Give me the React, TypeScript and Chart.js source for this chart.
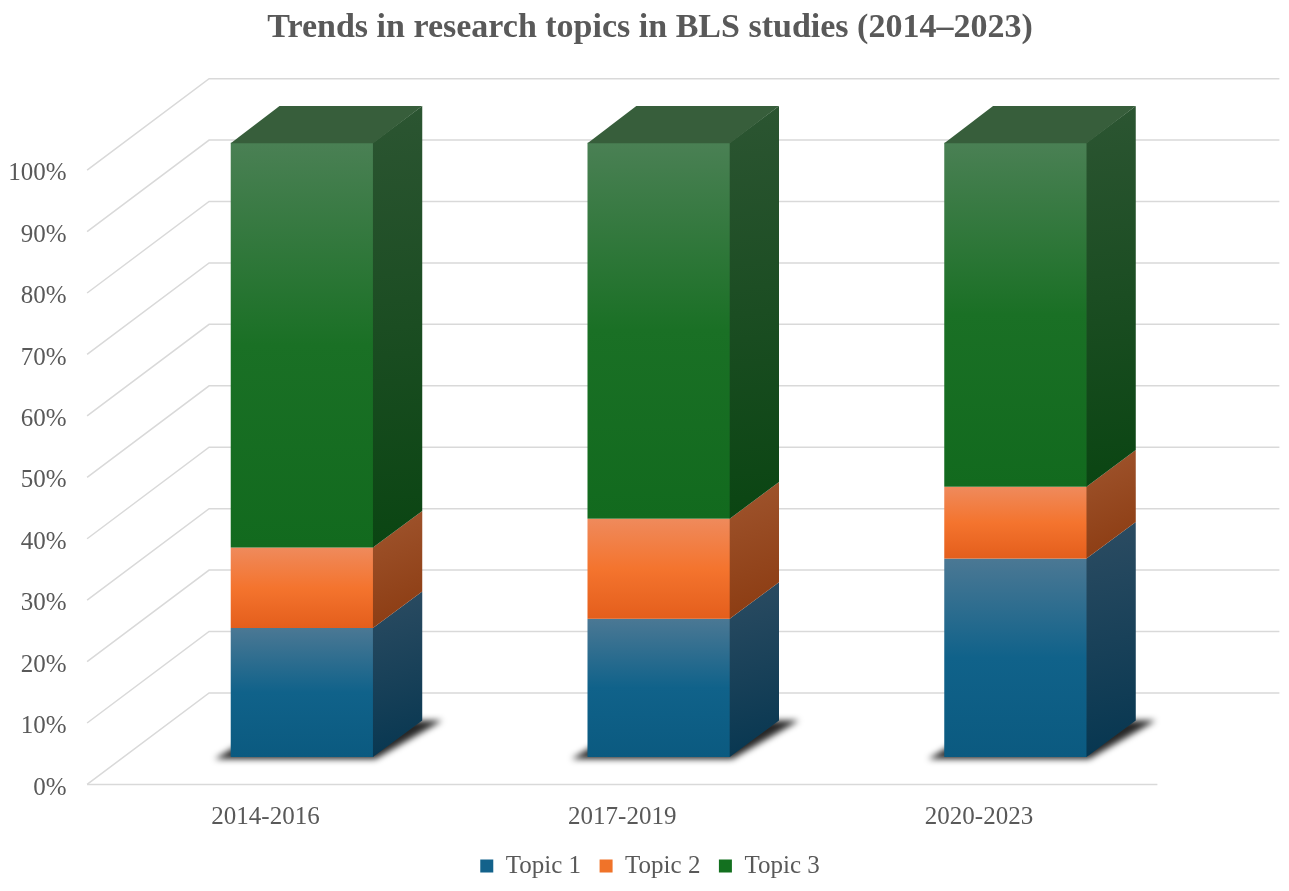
import { useEffect, useRef } from 'react';
import { Chart, registerables } from 'chart.js';

Chart.register(...registerables);

const categories = ['2014-2016', '2017-2019', '2020-2023'];
const seriesNames = ['Topic 1', 'Topic 2', 'Topic 3'];
const topic1 = [21.0, 22.5, 32.3];
const topic2 = [13.1, 16.3, 11.7];
const topic3 = [65.9, 61.2, 56.0];
const yMax = 100;
const yStep = 10;

// 3D box: offset from the front plane to the back wall, and where the bars sit in it
const DEPTH_X = 122;
const DEPTH_Y = -91.5;
const BAR_FRONT = 0.3;
const BAR_DEPTH = 0.4;

const GRID = '#d9d9d9';
const TEXT = '#595959';
const FONT = '"Liberation Serif", "Times New Roman", serif';

const faces = [
  { legend: '#13628b', front: ['#4b7894', '#10628a', '#0b5a80'], side: ['#2c4c62', '#063650'], top: '#2a4e66' },
  { legend: '#f07329', front: ['#ef8a5c', '#f4742e', '#e45e1c'], side: ['#a0552e', '#8a3a10'], top: '#b8602e' },
  { legend: '#13701f', front: ['#4a8054', '#1a7025', '#126a1e'], side: ['#2c5532', '#0a4512'], top: '#375e3b' },
];

const box3d = {
  id: 'box3d',
  beforeDatasetsDraw(chart: any) {
    const { ctx, chartArea, scales } = chart;
    const y = scales.y;
    const fx = -DEPTH_X * BAR_FRONT;
    const fy = -DEPTH_Y * BAR_FRONT;
    const bx = DEPTH_X * (1 - BAR_FRONT);
    const by = DEPTH_Y * (1 - BAR_FRONT);

    ctx.save();
    ctx.strokeStyle = GRID;
    ctx.lineWidth = 1.5;
    y.ticks.forEach((t: any) => {
      const py = y.getPixelForValue(t.value);
      ctx.beginPath();
      ctx.moveTo(chartArea.left + fx, py + fy);
      ctx.lineTo(chartArea.left + bx, py + by);
      ctx.lineTo(chartArea.right + bx, py + by);
      ctx.stroke();
    });
    const p0 = y.getPixelForValue(0);
    ctx.beginPath();
    ctx.moveTo(chartArea.left + fx, p0 + fy);
    ctx.lineTo(chartArea.right + fx, p0 + fy);
    ctx.stroke();

    // shadow under each bar
    const bdx = DEPTH_X * BAR_DEPTH;
    const bdy = DEPTH_Y * BAR_DEPTH;
    const meta = chart.getDatasetMeta(0);
    ctx.filter = 'blur(3px)';
    ctx.fillStyle = 'rgba(0,0,0,0.85)';
    meta.data.forEach((el: any) => {
      const { x, width } = el.getProps(['x', 'width'], true);
      const xl = x - width / 2;
      const xr = x + width / 2;
      ctx.beginPath();
      ctx.moveTo(xl - 16, p0 + 2);
      ctx.lineTo(xr + 2, p0 + 2);
      ctx.lineTo(xr + bdx + 20, p0 + bdy);
      ctx.lineTo(xl + bdx, p0 + bdy);
      ctx.closePath();
      ctx.fill();
    });
    ctx.restore();
  },
  beforeDatasetDraw() {
    return false;
  },
  afterDatasetsDraw(chart: any) {
    const { ctx } = chart;
    const bdx = DEPTH_X * BAR_DEPTH;
    const bdy = DEPTH_Y * BAR_DEPTH;
    const last = chart.data.datasets.length - 1;
    ctx.save();
    chart.data.datasets.forEach((_ds: any, di: number) => {
      const meta = chart.getDatasetMeta(di);
      const f = faces[di];
      meta.data.forEach((el: any) => {
        const { x, y: top, base, width } = el.getProps(['x', 'y', 'base', 'width'], true);
        const xl = x - width / 2;
        const xr = x + width / 2;

        const gf = ctx.createLinearGradient(0, top, 0, base);
        gf.addColorStop(0, f.front[0]);
        gf.addColorStop(0.5, f.front[1]);
        gf.addColorStop(1, f.front[2]);
        ctx.fillStyle = gf;
        ctx.fillRect(xl, top, width, base - top);

        const gs = ctx.createLinearGradient(xr, top + bdy, xr + bdx, base);
        gs.addColorStop(0, f.side[0]);
        gs.addColorStop(1, f.side[1]);
        ctx.fillStyle = gs;
        ctx.beginPath();
        ctx.moveTo(xr - 0.5, top);
        ctx.lineTo(xr + bdx, top + bdy);
        ctx.lineTo(xr + bdx, base + bdy);
        ctx.lineTo(xr - 0.5, base);
        ctx.closePath();
        ctx.fill();

        if (di === last) {
          ctx.fillStyle = f.top;
          ctx.beginPath();
          ctx.moveTo(xl, top + 0.5);
          ctx.lineTo(xl + bdx, top + bdy);
          ctx.lineTo(xr + bdx, top + bdy);
          ctx.lineTo(xr, top + 0.5);
          ctx.closePath();
          ctx.fill();
        }
      });
    });
    ctx.restore();
  },
};

const App = () => {
  const canvasRef = useRef<HTMLCanvasElement | null>(null);

  useEffect(() => {
    const canvas = canvasRef.current;
    if (!canvas) return;

    const series = [topic1, topic2, topic3];
    const chart = new Chart(canvas, {
      type: 'bar',
      data: {
        labels: categories,
        datasets: series.map((values, i) => ({
          label: seriesNames[i],
          data: values,
          backgroundColor: faces[i].legend,
          borderWidth: 0,
          barPercentage: 0.4,
          categoryPercentage: 1,
        })),
      },
      options: {
        animation: false,
        responsive: true,
        maintainAspectRatio: false,
        layout: { padding: { left: 106, right: 95, top: 0, bottom: 2.5 } },
        plugins: {
          title: {
            display: true,
            text: 'Trends in research topics in BLS studies (2014–2023)',
            color: TEXT,
            font: { family: FONT, size: 34, weight: 'bold' },
            padding: { top: 7.6, bottom: 94.3 },
          },
          legend: {
            position: 'bottom',
            labels: {
              color: TEXT,
              font: { family: FONT, size: 25 },
              boxWidth: 13,
              boxHeight: 13,
              padding: 18.5,
            },
          },
          tooltip: { enabled: false },
        },
        scales: {
          x: {
            stacked: true,
            grid: { display: false, drawTicks: false },
            border: { display: false },
            ticks: { color: TEXT, font: { family: FONT, size: 25 }, padding: 45, labelOffset: -DEPTH_X * BAR_FRONT },
            afterFit: (scale: any) => {
              scale.height = 78;
            },
          },
          y: {
            stacked: true,
            min: 0,
            max: yMax,
            grid: { display: false, drawTicks: false },
            border: { display: false },
            ticks: {
              stepSize: yStep,
              color: TEXT,
              font: { family: FONT, size: 25 },
              // mirrored so the labels are not clipped to the narrow axis box; right edge lands at x≈66
              mirror: true,
              crossAlign: 'far',
              padding: -115.5,
              labelOffset: -DEPTH_Y * BAR_FRONT + 3.5,
              callback: (v: any) => `${v}%`,
            },
            afterFit: (scale: any) => {
              scale.width = 17.7;
            },
          },
        },
      },
      plugins: [box3d],
    });

    return () => {
      chart.destroy();
    };
  }, []);

  return (
    <div style={{ position: 'absolute', left: 0, top: 0, width: 1289, height: 891, background: '#fff' }}>
      <canvas ref={canvasRef} />
    </div>
  );
};

export default App;
